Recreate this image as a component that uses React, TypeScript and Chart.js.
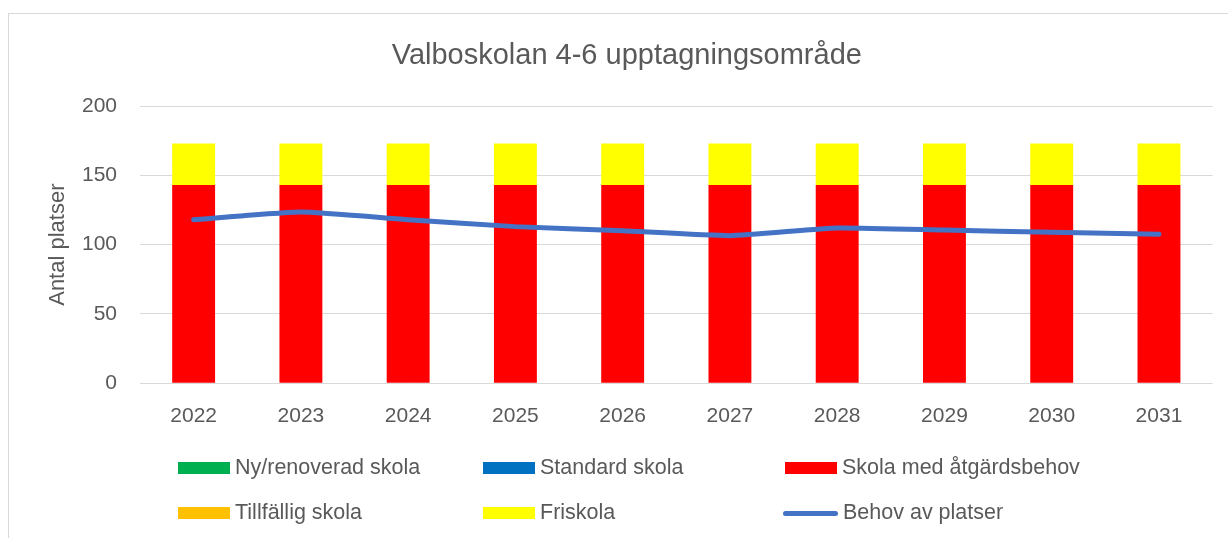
import React, { useEffect, useRef } from 'react';
import { Chart, registerables } from 'chart.js';

Chart.register(...registerables);

const chartTitle = 'Valboskolan 4-6 upptagningsområde';
const yAxisTitle = 'Antal platser';
const categories = ['2022', '2023', '2024', '2025', '2026', '2027', '2028', '2029', '2030', '2031'];

const nyRenoveradSkola = [0, 0, 0, 0, 0, 0, 0, 0, 0, 0];
const standardSkola = [0, 0, 0, 0, 0, 0, 0, 0, 0, 0];
const skolaMedAtgardsbehov = [143, 143, 143, 143, 143, 143, 143, 143, 143, 143];
const tillfalligSkola = [0, 0, 0, 0, 0, 0, 0, 0, 0, 0];
const friskola = [30, 30, 30, 30, 30, 30, 30, 30, 30, 30];
const behovAvPlatser = [118, 123.5, 118, 113, 110, 106.5, 112, 110.5, 109, 107.5];

const yTicks = [0, 50, 100, 150, 200];

const FONT = '"Liberation Sans", Arial, sans-serif';
const GREY = '#595959';

const barSeries = [
  { label: 'Ny/renoverad skola', data: nyRenoveradSkola, color: '#00B050' },
  { label: 'Standard skola', data: standardSkola, color: '#0070C0' },
  { label: 'Skola med åtgärdsbehov', data: skolaMedAtgardsbehov, color: '#FF0000' },
  { label: 'Tillfällig skola', data: tillfalligSkola, color: '#FFC000' },
  { label: 'Friskola', data: friskola, color: '#FFFF00' },
];
const lineSeries = { label: 'Behov av platser', data: behovAvPlatser, color: '#4472C4' };

// legend layout (Excel-like grid: 3 columns x 2 rows)
const legendOrder = [
  { label: 'Ny/renoverad skola', color: '#00B050', type: 'box', x: 178, y: 468 },
  { label: 'Standard skola', color: '#0070C0', type: 'box', x: 483, y: 468 },
  { label: 'Skola med åtgärdsbehov', color: '#FF0000', type: 'box', x: 785, y: 468 },
  { label: 'Tillfällig skola', color: '#FFC000', type: 'box', x: 178, y: 513 },
  { label: 'Friskola', color: '#FFFF00', type: 'box', x: 483, y: 513 },
  { label: 'Behov av platser', color: '#4472C4', type: 'line', x: 783, y: 513 },
];

export default function App() {
  const canvasRef = useRef<HTMLCanvasElement | null>(null);

  useEffect(() => {
    const canvas = canvasRef.current;
    if (!canvas) return;
    const chart = new Chart(canvas, {
      type: 'bar',
      data: {
        labels: categories,
        datasets: [
          {
            type: 'line',
            label: lineSeries.label,
            data: lineSeries.data,
            borderColor: lineSeries.color,
            backgroundColor: lineSeries.color,
            borderWidth: 5,
            pointRadius: 0,
            tension: 0.15,
            borderCapStyle: 'round',
            borderJoinStyle: 'round',
            stack: 'line',
            order: 0,
          } as any,
          ...barSeries.map((s) => ({
            type: 'bar',
            label: s.label,
            data: s.data,
            backgroundColor: s.color,
            borderWidth: 0,
            barPercentage: 0.4,
            categoryPercentage: 1,
            stack: 'bars',
            order: 1,
          })),
        ],
      },
      options: {
        responsive: false,
        animation: false,
        layout: { padding: { top: 38.6, left: 41, right: 15.4, bottom: 89.5 } },
        plugins: {
          legend: { display: false },
          tooltip: { enabled: false },
          title: {
            display: true,
            text: chartTitle,
            color: GREY,
            font: { family: FONT, size: 29, weight: 'normal', lineHeight: 1.2 },
            padding: { top: 0, bottom: 32.6 },
          },
        },
        scales: {
          x: {
            stacked: true,
            grid: { display: false, drawTicks: false },
            border: { display: false },
            ticks: { color: GREY, font: { family: FONT, size: 21 }, padding: 20 },
          },
          y: {
            stacked: true,
            min: 0,
            max: 200,
            afterFit: (scale: any) => {
              scale.width = 99;
            },
            afterBuildTicks: (scale: any) => {
              scale.ticks = yTicks.map((v) => ({ value: v }));
            },
            grid: { color: '#D9D9D9', lineWidth: 1, drawTicks: false },
            border: { display: false },
            ticks: { color: GREY, font: { family: FONT, size: 21 }, padding: 23 },
            title: {
              display: true,
              text: yAxisTitle,
              color: GREY,
              font: { family: FONT, size: 22 },
            },
          },
        },
      } as any,
    });
    return () => chart.destroy();
  }, []);

  return (
    <div
      style={{
        position: 'absolute',
        left: 0,
        top: 0,
        width: 1228,
        height: 538,
        overflow: 'hidden',
        background: '#ffffff',
      }}
    >
      <div
        style={{
          position: 'absolute',
          left: 8,
          top: 13,
          width: 1300,
          height: 600,
          border: '1px solid #D9D9D9',
        }}
      />
      <canvas
        ref={canvasRef}
        width={1228}
        height={538}
        style={{ position: 'absolute', left: 0, top: 0, width: 1228, height: 538 }}
      />
      {legendOrder.map((item) => (
        <div key={item.label}>
          {item.type === 'box' ? (
            <div
              style={{
                position: 'absolute',
                left: item.x,
                top: item.y - 6,
                width: 52,
                height: 12,
                background: item.color,
              }}
            />
          ) : (
            <div
              style={{
                position: 'absolute',
                left: item.x,
                top: item.y - 2.5,
                width: 55,
                height: 5,
                borderRadius: 2.5,
                background: item.color,
              }}
            />
          )}
          <div
            style={{
              position: 'absolute',
              left: item.type === 'box' ? item.x + 57 : item.x + 60,
              top: item.y - 1.5,
              transform: 'translateY(-50%)',
              fontFamily: FONT,
              fontSize: 21.5,
              lineHeight: '26px',
              color: GREY,
              whiteSpace: 'nowrap',
            }}
          >
            {item.label}
          </div>
        </div>
      ))}
    </div>
  );
}
